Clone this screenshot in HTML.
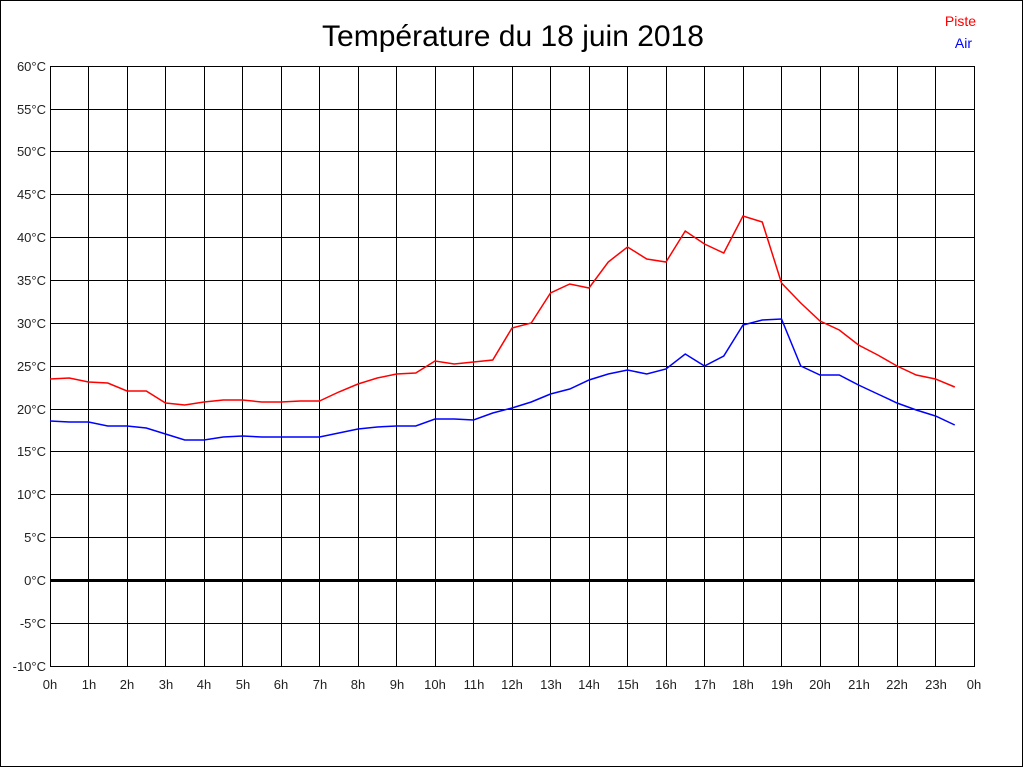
<!DOCTYPE html>
<html><head><meta charset="utf-8"><style>
body{margin:0;background:#fff}
svg{display:block}
text{font-family:"Liberation Sans",sans-serif}
</style></head><body>
<svg width="1024" height="768" xmlns="http://www.w3.org/2000/svg">
<rect x="0.5" y="0.5" width="1022" height="766" fill="#fff" stroke="#000"/>
<text x="513" y="46" font-size="30" text-anchor="middle">Température du 18 juin 2018</text>
<text x="976" y="26" font-size="14" fill="#f00" text-anchor="end">Piste</text>
<text x="972" y="48" font-size="14" fill="#00f" text-anchor="end">Air</text>
<g stroke="#000" stroke-width="1" shape-rendering="crispEdges">
<path d="M50.5 66V666M88.5 66V666M127.5 66V666M165.5 66V666M204.5 66V666M242.5 66V666M281.5 66V666M319.5 66V666M358.5 66V666M396.5 66V666M435.5 66V666M473.5 66V666M512.5 66V666M550.5 66V666M589.5 66V666M627.5 66V666M666.5 66V666M704.5 66V666M743.5 66V666M781.5 66V666M820.5 66V666M858.5 66V666M897.5 66V666M935.5 66V666M974.5 66V666"/>
<path d="M50 66.5H975M50 109.5H975M50 151.5H975M50 194.5H975M50 237.5H975M50 280.5H975M50 323.5H975M50 366.5H975M50 409.5H975M50 451.5H975M50 494.5H975M50 537.5H975M50 623.5H975M50 666.5H975"/>
<path d="M50 580.5H975" stroke-width="3"/>
</g>
<g font-size="13" fill="#222" text-anchor="end">
<text x="46" y="71">60°C</text><text x="46" y="114">55°C</text><text x="46" y="156">50°C</text><text x="46" y="199">45°C</text><text x="46" y="242">40°C</text><text x="46" y="285">35°C</text><text x="46" y="328">30°C</text><text x="46" y="371">25°C</text><text x="46" y="414">20°C</text><text x="46" y="456">15°C</text><text x="46" y="499">10°C</text><text x="46" y="542">5°C</text><text x="46" y="585">0°C</text><text x="46" y="628">-5°C</text><text x="46" y="671">-10°C</text>
</g>
<g font-size="13" fill="#222" text-anchor="middle">
<text x="50" y="689">0h</text><text x="89" y="689">1h</text><text x="127" y="689">2h</text><text x="166" y="689">3h</text><text x="204" y="689">4h</text><text x="243" y="689">5h</text><text x="281" y="689">6h</text><text x="320" y="689">7h</text><text x="358" y="689">8h</text><text x="397" y="689">9h</text><text x="435" y="689">10h</text><text x="474" y="689">11h</text><text x="512" y="689">12h</text><text x="551" y="689">13h</text><text x="589" y="689">14h</text><text x="628" y="689">15h</text><text x="666" y="689">16h</text><text x="705" y="689">17h</text><text x="743" y="689">18h</text><text x="782" y="689">19h</text><text x="820" y="689">20h</text><text x="859" y="689">21h</text><text x="897" y="689">22h</text><text x="936" y="689">23h</text><text x="974" y="689">0h</text>
</g>
<polyline fill="none" stroke="#f00" stroke-width="1.5" points="50,379 69.25,378 88.5,382 107.75,383 127,391 146.25,391 165.5,403 184.75,405 204,402 223.25,400 242.5,400 261.75,402 281,402 300.25,401 319.5,401 338.75,392 358,384 377.25,378 396.5,374 415.75,373 435,361 454.25,364 473.5,362 492.75,360 512,328 531.25,323 550.5,293 569.75,284 589,288 608.25,262 627.5,247 646.75,259 666,262 685.25,231 704.5,244 723.75,253 743,216 762.25,222 781.5,283 800.75,303 820,321 839.25,330 858.5,345 877.75,355 897,366 916.25,375 935.5,379 954.75,387"/>
<polyline fill="none" stroke="#00f" stroke-width="1.5" points="50,421 69.25,422 88.5,422 107.75,426 127,426 146.25,428 165.5,434 184.75,440 204,440 223.25,437 242.5,436 261.75,437 281,437 300.25,437 319.5,437 338.75,433 358,429 377.25,427 396.5,426 415.75,426 435,419 454.25,419 473.5,420 492.75,413 512,408 531.25,402 550.5,394 569.75,389 589,380 608.25,374 627.5,370 646.75,374 666,369 685.25,354 704.5,366 723.75,356 743,325 762.25,320 781.5,319 800.75,366 820,375 839.25,375 858.5,385 877.75,394 897,403 916.25,410 935.5,416 954.75,425"/>
</svg>
</body></html>
